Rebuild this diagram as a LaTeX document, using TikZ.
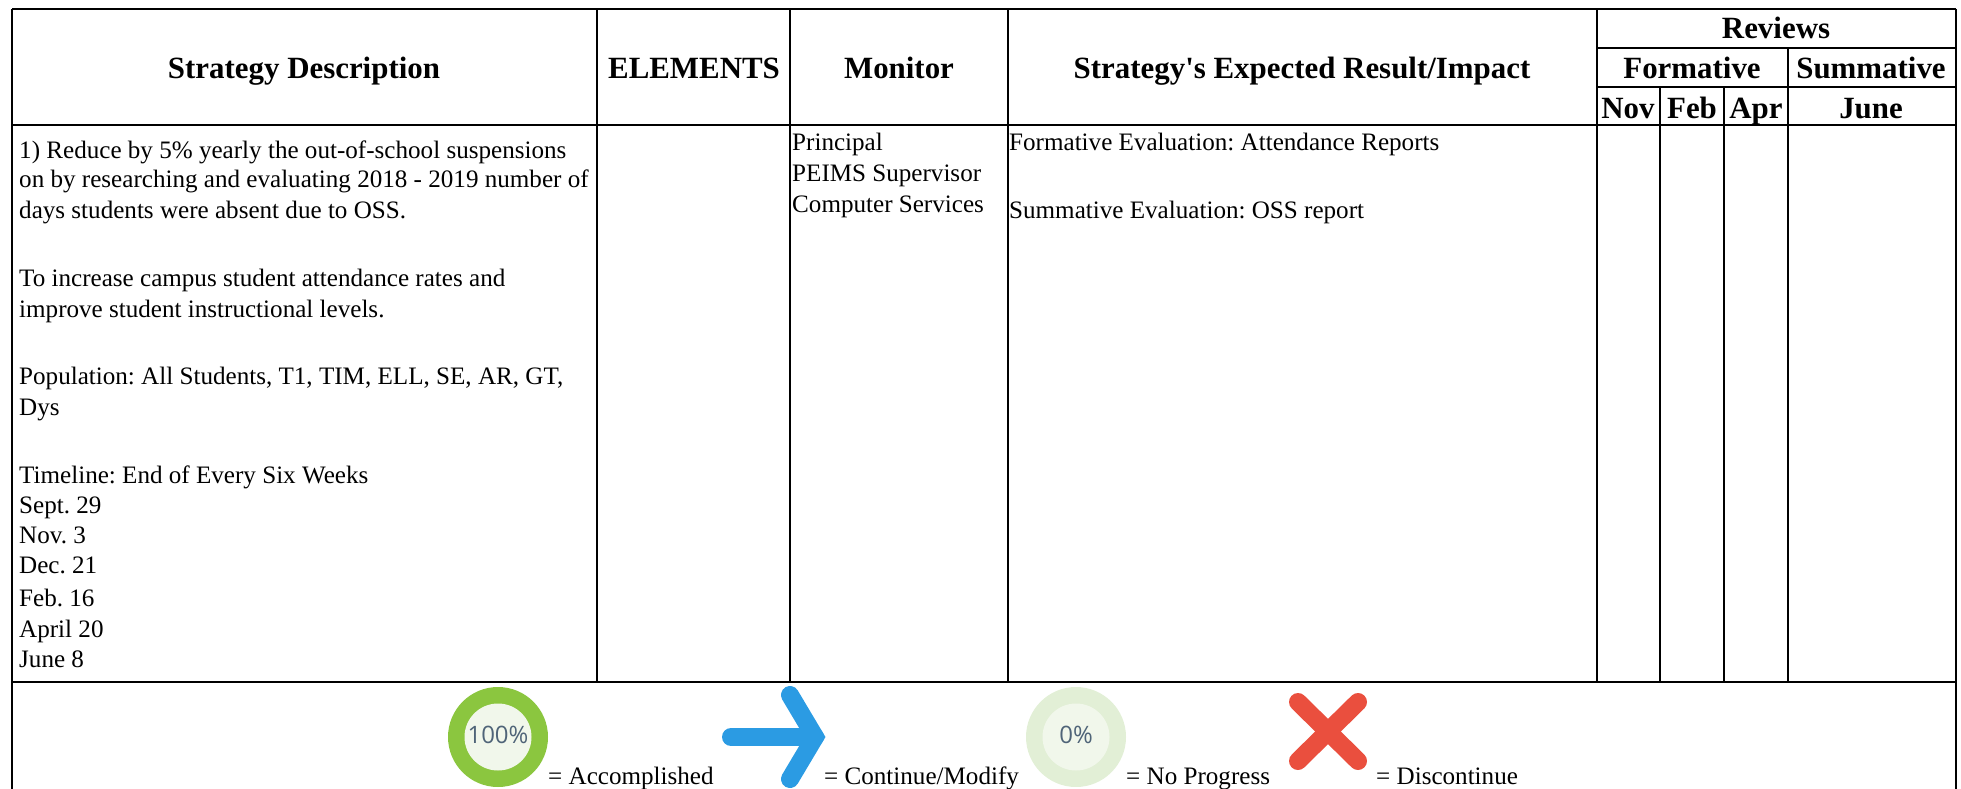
\documentclass[tikz,border=0pt]{standalone}
\usepackage{fontspec}
\setmainfont{Liberation Serif}
\newfontfamily\iconfont{Open Sans}
\newfontfamily\plainserif{Liberation Serif}
\definecolor{gfull}{HTML}{8BC63F}
\definecolor{gpale}{HTML}{E2EFD6}
\definecolor{ginner}{HTML}{F1F7EB}
\definecolor{barrow}{HTML}{2B9BE3}
\definecolor{rcross}{HTML}{EA4F3E}
\definecolor{pcttext}{HTML}{4F6478}
\tikzset{
  x=1pt,y=-1pt,
  grid/.style={draw=black,line width=2.2pt},
  body/.style={anchor=base west,inner sep=0pt,font=\frenchspacing\fontsize{25.1}{29}\selectfont},
  head/.style={anchor=base,inner sep=0pt,font=\fontsize{30.9}{34}\selectfont\bfseries},
  pct/.style={inner sep=0pt,text=pcttext,font=\iconfont\fontsize{24}{28}\selectfont},
  glyphline/.style={line width=18pt,line cap=round,line join=miter}
}
\begin{document}
\begin{tikzpicture}
\useasboundingbox (0,0) rectangle (1961,789);
% table rules
\draw[grid] (12,9) -- (1956,9);
\draw[grid] (12,125) -- (1956,125);
\draw[grid] (12,682) -- (1956,682);
\draw[grid] (1597,48) -- (1956,48);
\draw[grid] (1597,87) -- (1956,87);
\draw[grid] (12,9) -- (12,789);
\draw[grid] (1956,9) -- (1956,789);
\foreach \xx in {597,790,1008,1597} \draw[grid] (\xx,9) -- (\xx,682);
\draw[grid] (1788,48) -- (1788,682);
\foreach \xx in {1660,1724} \draw[grid] (\xx,87) -- (\xx,682);
% headers
\node[head] (h1) at (304,79) {Strategy Description};
\node[head] (h2) at (694,79) {ELEMENTS};
\node[head] (h3) at (899,79) {Monitor};
\node[head] (h4) at (1302,79) {Strategy{\plainserif\bfseries '}s Expected Result/Impact};
\node[head] (h5) at (1776,39) {Reviews};
\node[head] (h6) at (1692,79) {Formative};
\node[head] (h7) at (1871,79) {Summative};
\node[head] (h8) at (1628,118) {Nov};
\node[head] (h9) at (1692,118) {Feb};
\node[head] (h10) at (1756,118) {Apr};
\node[head] (h11) at (1871,118) {June};
% strategy column
\node[body] (s1) at (19,158) {1) Reduce by 5\% yearly the out-of-school suspensions};
\node[body] (s2) at (19,187) {on by researching and evaluating 2018 - 2019 number of};
\node[body] (s3) at (19,218) {days students were absent due to OSS.};
\node[body] (s4) at (19,286) {To increase campus student attendance rates and};
\node[body] (s5) at (19,317) {improve student instructional levels.};
\node[body] (s6) at (19,384) {Population: All Students, T1, TIM, ELL, SE, AR, GT,};
\node[body] (s7) at (19,415) {Dys};
\node[body] (s8) at (19,483) {Timeline: End of Every Six Weeks};
\node[body] (s9) at (19,513) {Sept. 29};
\node[body] (s10) at (19,543) {Nov. 3};
\node[body] (s11) at (19,573) {Dec. 21};
\node[body] (s12) at (19,606) {Feb. 16};
\node[body] (s13) at (19,637) {April 20};
\node[body] (s14) at (19,667) {June 8};
% monitor column
\node[body] (m1) at (792,150) {Principal};
\node[body] (m2) at (792,181) {PEIMS Supervisor};
\node[body] (m3) at (792,212) {Computer Services};
% expected result column
\node[body] (r1) at (1009,150) {Formative Evaluation: Attendance Reports};
\node[body] (r2) at (1009,218) {Summative Evaluation: OSS report};
% legend icons
\node[circle,draw=none,fill=gfull,minimum size=100pt,inner sep=0pt] (i1) at (498,737) {};
\node[circle,draw=none,fill=ginner,minimum size=67pt,inner sep=0pt] (i1b) at (498,737) {};
\node[pct] (i1t) at (498,735) {100\%};
\coordinate (a0) at (731,737);
\coordinate (a1) at (815,737);
\coordinate (a2) at (790,695);
\coordinate (a3) at (790,779);
\draw[glyphline,barrow] (a0) -- (a1);
\draw[glyphline,barrow] (a2) -- (a1) -- (a3);
\node[circle,draw=none,fill=gpale,minimum size=100pt,inner sep=0pt] (i3) at (1076,737) {};
\node[circle,draw=none,fill=ginner,minimum size=67pt,inner sep=0pt] (i3b) at (1076,737) {};
\node[pct] (i3t) at (1076,735) {0\%};
\coordinate (x1) at (1298,702);
\coordinate (x2) at (1358,761);
\coordinate (x3) at (1358,702);
\coordinate (x4) at (1298,761);
\draw[glyphline,rcross] (x1) -- (x2);
\draw[glyphline,rcross] (x3) -- (x4);
% legend texts
\node[body] (l1) at (548,784) {= Accomplished};
\node[body] (l2) at (824,784) {= Continue/Modify};
\node[body] (l3) at (1126,784) {= No Progress};
\node[body] (l4) at (1376,784) {= Discontinue};
\end{tikzpicture}
\end{document}
